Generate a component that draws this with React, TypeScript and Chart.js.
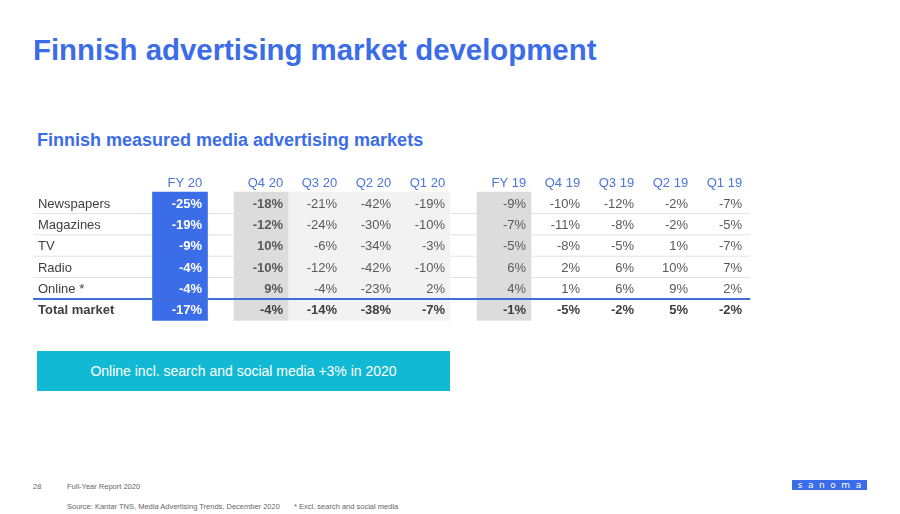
import React, { useEffect, useRef } from "react";
import { Chart, registerables } from "chart.js";

Chart.register(...registerables);

// ---------- data ----------
const categories = ["Newspapers", "Magazines", "TV", "Radio", "Online *", "Total market"];
const periods = ["FY 20", "Q4 20", "Q3 20", "Q2 20", "Q1 20", "FY 19", "Q4 19", "Q3 19", "Q2 19", "Q1 19"];

const fy20 = [-25, -19, -9, -4, -4, -17];
const q4_20 = [-18, -12, 10, -10, 9, -4];
const q3_20 = [-21, -24, -6, -12, -4, -14];
const q2_20 = [-42, -30, -34, -42, -23, -38];
const q1_20 = [-19, -10, -3, -10, 2, -7];
const fy19 = [-9, -7, -5, 6, 4, -1];
const q4_19 = [-10, -11, -8, 2, 1, -5];
const q3_19 = [-12, -8, -5, 6, 6, -2];
const q2_19 = [-2, -2, 1, 10, 9, 5];
const q1_19 = [-7, -5, -7, 7, 2, -2];

const seriesValues = [fy20, q4_20, q3_20, q2_20, q1_20, fy19, q4_19, q3_19, q2_19, q1_19];

// ---------- layout / style (not data) ----------
const colPos = [0, 1.5, 2.5, 3.5, 4.5, 6, 7, 8, 9, 10];
const FONT = '"Liberation Sans", Arial, Helvetica, sans-serif';
const BLUE = "#3b6de9";
const TEAL = "#12b9d4";
const DARK_GREY = "#dcdcdc";
const LIGHT_GREY = "#f2f2f2";
const colFill = [BLUE, DARK_GREY, LIGHT_GREY, LIGHT_GREY, LIGHT_GREY, DARK_GREY, null, null, null, null];
const colBold = [true, true, false, false, false, false, false, false, false, false];

const tablePlugin = {
  id: "tableText",
  afterDatasetsDraw(chart: any) {
    const ctx = chart.ctx;
    const xs = chart.scales.x;
    const ys = chart.scales.y;
    const TEXT_SHIFT = 0.06;
    ctx.save();
    ctx.textBaseline = "middle";
    // header
    ctx.textAlign = "right";
    ctx.font = `13px ${FONT}`;
    ctx.fillStyle = "#4a76d8";
    periods.forEach((p, c) => {
      ctx.fillText(p, xs.getPixelForValue(colPos[c] + 0.41), ys.getPixelForValue(-0.92));
    });
    // row labels
    ctx.textAlign = "left";
    categories.forEach((cat, r) => {
      const isTotal = r === categories.length - 1;
      ctx.font = `${isTotal ? "bold " : ""}13px ${FONT}`;
      ctx.fillStyle = "#404040";
      ctx.fillText(cat, xs.getPixelForValue(-2.63), ys.getPixelForValue(r + TEXT_SHIFT));
    });
    // values
    ctx.textAlign = "right";
    seriesValues.forEach((vals, c) => {
      vals.forEach((v, r) => {
        const isTotal = r === categories.length - 1;
        const bold = colBold[c] || isTotal;
        ctx.font = `${bold ? "bold " : ""}13px ${FONT}`;
        ctx.fillStyle = c === 0 ? "#ffffff" : isTotal ? "#404040" : "#595959";
        ctx.fillText(`${v}%`, xs.getPixelForValue(colPos[c] + 0.41), ys.getPixelForValue(r + TEXT_SHIFT));
      });
    });
    ctx.restore();
  },
};

function TableChart() {
  const ref = useRef<HTMLCanvasElement | null>(null);
  useEffect(() => {
    if (!ref.current) return;
    const datasets: any[] = [];
    // row separators
    const lastRow = categories.length - 1;
    for (let r = 0; r < lastRow; r++) {
      const isBlue = r === lastRow - 1;
      datasets.push({
        type: "line",
        data: [
          { x: -2.72, y: r + 0.5 },
          { x: 10.56, y: r + 0.5 },
        ],
        borderColor: isBlue ? "#3f6fd6" : "#e2e2e2",
        borderWidth: isBlue ? 2 : 1,
        pointRadius: 0,
        fill: false,
        order: isBlue ? 1 : 10,
      });
    }
    // column cell backgrounds
    colFill.forEach((fill, c) => {
      if (!fill) return;
      datasets.push({
        type: "bar",
        data: [{ x: colPos[c], y: [-0.5, lastRow + 0.5] }],
        backgroundColor: fill,
        borderWidth: 0,
        barThickness: c === 0 ? 55 : 54,
        grouped: false,
        order: 5,
      });
    });
    const chart = new Chart(ref.current, {
      type: "bar",
      data: { datasets },
      options: {
        animation: false,
        responsive: false,
        maintainAspectRatio: false,
        events: [],
        layout: { padding: 0 },
        plugins: { legend: { display: false }, tooltip: { enabled: false } },
        scales: {
          x: { type: "linear", min: -180 / 54, max: 720 / 54, offset: false, display: false },
          y: { type: "linear", min: -2, max: 6, reverse: true, display: false },
        },
      },
      plugins: [tablePlugin],
    } as any);
    return () => chart.destroy();
  }, []);
  return (
    <canvas
      ref={ref}
      width={900}
      height={171}
      style={{ position: "absolute", left: 0, top: 160, width: 900, height: 171 }}
    />
  );
}

export default function App() {
  const abs = (o: any) => ({ position: "absolute", fontFamily: FONT, whiteSpace: "nowrap", ...o });
  return (
    <div style={{ position: "absolute", left: 0, top: 0, width: 900, height: 514, overflow: "hidden", background: "#fff" }}>
      <div style={abs({ left: 33, top: 35, fontSize: 29.4, lineHeight: "29px", fontWeight: "bold", color: BLUE })}>
        Finnish advertising market development
      </div>
      <div style={abs({ left: 37, top: 131, fontSize: 18, lineHeight: "18px", fontWeight: "bold", color: BLUE })}>
        Finnish measured media advertising markets
      </div>
      <TableChart />
      <div
        style={abs({
          left: 37,
          top: 351,
          width: 413,
          height: 40,
          background: TEAL,
          color: "#fff",
          fontSize: 14,
          display: "flex",
          alignItems: "center",
          justifyContent: "center",
        })}
      >
        Online incl. search and social media +3% in 2020
      </div>
      <div style={abs({ left: 33, top: 483, fontSize: 7.5, lineHeight: "7.5px", color: "#666" })}>28</div>
      <div style={abs({ left: 67, top: 483, fontSize: 7.5, lineHeight: "7.5px", color: "#666" })}>Full-Year Report 2020</div>
      <div style={abs({ left: 67, top: 503, fontSize: 7.5, lineHeight: "7.5px", color: "#666" })}>
        Source: Kantar TNS, Media Advertising Trends, December 2020
      </div>
      <div style={abs({ left: 294, top: 503, fontSize: 7.5, lineHeight: "7.5px", color: "#666" })}>
        * Excl. search and social media
      </div>
      <div
        style={abs({
          left: 792,
          top: 480,
          width: 75,
          height: 10,
          background: BLUE,
          color: "#fff",
          fontFamily: '"DejaVu Sans", sans-serif',
          fontSize: 9,
          lineHeight: "10px",
          display: "flex",
          justifyContent: "space-around",
          alignItems: "center",
          padding: "0 3px",
          boxSizing: "border-box",
        })}
      >
        {"sanoma".split("").map((ch, i) => (
          <span key={i}>{ch}</span>
        ))}
      </div>
    </div>
  );
}
